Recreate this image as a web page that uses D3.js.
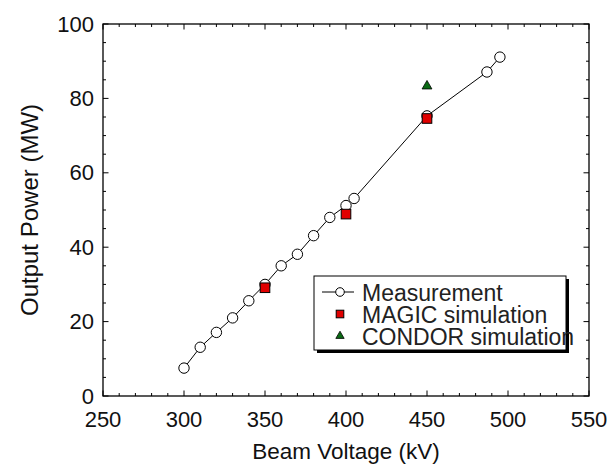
<!DOCTYPE html>
<html>
<head>
<meta charset="utf-8">
<script src="https://cdn.jsdelivr.net/npm/d3@7"></script>
<style>
  html, body { margin: 0; padding: 0; background: #fff; }
  svg { display: block; }
  text { font-family: "Liberation Sans", Arial, Helvetica, sans-serif; fill: #111; }
</style>
</head>
<body>
<svg id="chart" width="611" height="468"></svg>
<script>
// Measured output power vs. beam voltage
const measVoltage = [300, 310, 320, 330, 340, 350, 360, 370, 380, 390, 400, 405, 450, 487, 495];
const measPower   = [7.5, 13.1, 17.1, 21.0, 25.6, 30.0, 35.0, 38.1, 43.1, 48.0, 51.2, 53.1, 75.3, 87.1, 91.1];

// MAGIC PIC simulation results
const magicVoltage = [350, 400, 450];
const magicPower   = [29.1, 48.9, 74.6];

// CONDOR simulation result
const condorVoltage = [450];
const condorPower   = [83.3];

const xTicks = [250, 300, 350, 400, 450, 500, 550];
const yTicks = [0, 20, 40, 60, 80, 100];
const legendLabels = ["Measurement", "MAGIC simulation", "CONDOR simulation"];

const svg = d3.select("#chart");
const plotL = 103, plotR = 589, plotT = 24, plotB = 396;

const x = d3.scaleLinear().domain([250, 550]).range([plotL, plotR]);
const y = d3.scaleLinear().domain([0, 100]).range([plotB, plotT]);

const axisG = svg.append("g");

// Minor and major ticks on all four sides, pointing inward
const xMinor = d3.range(250, 551, 10);
const yMinor = d3.range(0, 101, 5);
function tickLen(v, step) { return (v % step === 0) ? 5.5 : 3; }

axisG.selectAll(".xb").data(xMinor).join("line")
  .attr("x1", d => x(d)).attr("x2", d => x(d))
  .attr("y1", plotB).attr("y2", d => plotB - tickLen(d, 50))
  .attr("stroke", "#000").attr("stroke-width", 1);
axisG.selectAll(".xt").data(xMinor).join("line")
  .attr("x1", d => x(d)).attr("x2", d => x(d))
  .attr("y1", plotT).attr("y2", d => plotT + tickLen(d, 50))
  .attr("stroke", "#000").attr("stroke-width", 1);
axisG.selectAll(".yl").data(yMinor).join("line")
  .attr("y1", d => y(d)).attr("y2", d => y(d))
  .attr("x1", plotL).attr("x2", d => plotL + tickLen(d, 20))
  .attr("stroke", "#000").attr("stroke-width", 1);
axisG.selectAll(".yr").data(yMinor).join("line")
  .attr("y1", d => y(d)).attr("y2", d => y(d))
  .attr("x1", plotR).attr("x2", d => plotR - tickLen(d, 20))
  .attr("stroke", "#000").attr("stroke-width", 1);

// Frame
axisG.append("rect")
  .attr("x", plotL).attr("y", plotT)
  .attr("width", plotR - plotL).attr("height", plotB - plotT)
  .attr("fill", "none").attr("stroke", "#000").attr("stroke-width", 1.3);

// Tick labels
axisG.selectAll(".xl").data(xTicks).join("text")
  .attr("x", d => x(d)).attr("y", plotB + 31)
  .attr("text-anchor", "middle").attr("font-size", 22)
  .text(d => d);
axisG.selectAll(".ylab").data(yTicks).join("text")
  .attr("x", plotL - 9).attr("y", d => y(d) + 7.5)
  .attr("text-anchor", "end").attr("font-size", 22)
  .text(d => d);

// Axis titles
svg.append("text")
  .attr("x", (plotL + plotR) / 2).attr("y", 459)
  .attr("text-anchor", "middle").attr("font-size", 22.5)
  .text("Beam Voltage (kV)");
svg.append("text")
  .attr("transform", `translate(38,${(plotT + plotB) / 2}) rotate(-90)`)
  .attr("text-anchor", "middle").attr("font-size", 24)
  .text("Output Power (MW)");

// Measurement line and circles
const meas = measVoltage.map((v, i) => ({ v, p: measPower[i] }));
svg.append("path")
  .datum(meas)
  .attr("d", d3.line().x(d => x(d.v)).y(d => y(d.p)))
  .attr("fill", "none").attr("stroke", "#000").attr("stroke-width", 1);
svg.selectAll(".meas").data(meas).join("circle")
  .attr("cx", d => x(d.v)).attr("cy", d => y(d.p)).attr("r", 5.2)
  .attr("fill", "#fff").attr("stroke", "#000").attr("stroke-width", 1);

// MAGIC squares
const magic = magicVoltage.map((v, i) => ({ v, p: magicPower[i] }));
svg.selectAll(".magic").data(magic).join("rect")
  .attr("x", d => x(d.v) - 4.8).attr("y", d => y(d.p) - 4.8)
  .attr("width", 9.6).attr("height", 9.6)
  .attr("fill", "#e00000").attr("stroke", "#000").attr("stroke-width", 1);

// CONDOR triangles
const condor = condorVoltage.map((v, i) => ({ v, p: condorPower[i] }));
const tri = d3.symbol().type(d3.symbolTriangle).size(42);
svg.selectAll(".condor").data(condor).join("path")
  .attr("transform", d => `translate(${x(d.v)},${y(d.p)})`)
  .attr("d", tri)
  .attr("fill", "#0a6a14").attr("stroke", "#000").attr("stroke-width", 0.8);

// Legend with drop shadow
const lg = svg.append("g");
const lx = 314, ly = 276, lw = 252, lh = 74;
lg.append("rect").attr("x", lx + 3).attr("y", ly + 3).attr("width", lw).attr("height", lh)
  .attr("fill", "#000");
lg.append("rect").attr("x", lx).attr("y", ly).attr("width", lw).attr("height", lh)
  .attr("fill", "#fff").attr("stroke", "#000").attr("stroke-width", 1);

const rowY = [292, 314, 336];
const mx = 340;
const triSmall = d3.symbol().type(d3.symbolTriangle).size(30);
lg.append("line").attr("x1", 322).attr("x2", 354).attr("y1", rowY[0]).attr("y2", rowY[0])
  .attr("stroke", "#000").attr("stroke-width", 1);
lg.append("circle").attr("cx", mx).attr("cy", rowY[0]).attr("r", 4.3)
  .attr("fill", "#fff").attr("stroke", "#000");
lg.append("rect").attr("x", mx - 3.8).attr("y", rowY[1] - 3.8).attr("width", 7.6).attr("height", 7.6)
  .attr("fill", "#e00000").attr("stroke", "#000");
lg.append("path").attr("transform", `translate(${mx},${rowY[2]})`).attr("d", triSmall)
  .attr("fill", "#0a6a14").attr("stroke", "#000").attr("stroke-width", 0.8);

lg.selectAll(".lt").data(legendLabels).join("text")
  .attr("x", 362).attr("y", (d, i) => rowY[i] + 8.5)
  .attr("font-size", 23).style("fill", "#222")
  .text(d => d);
</script>
</body>
</html>
